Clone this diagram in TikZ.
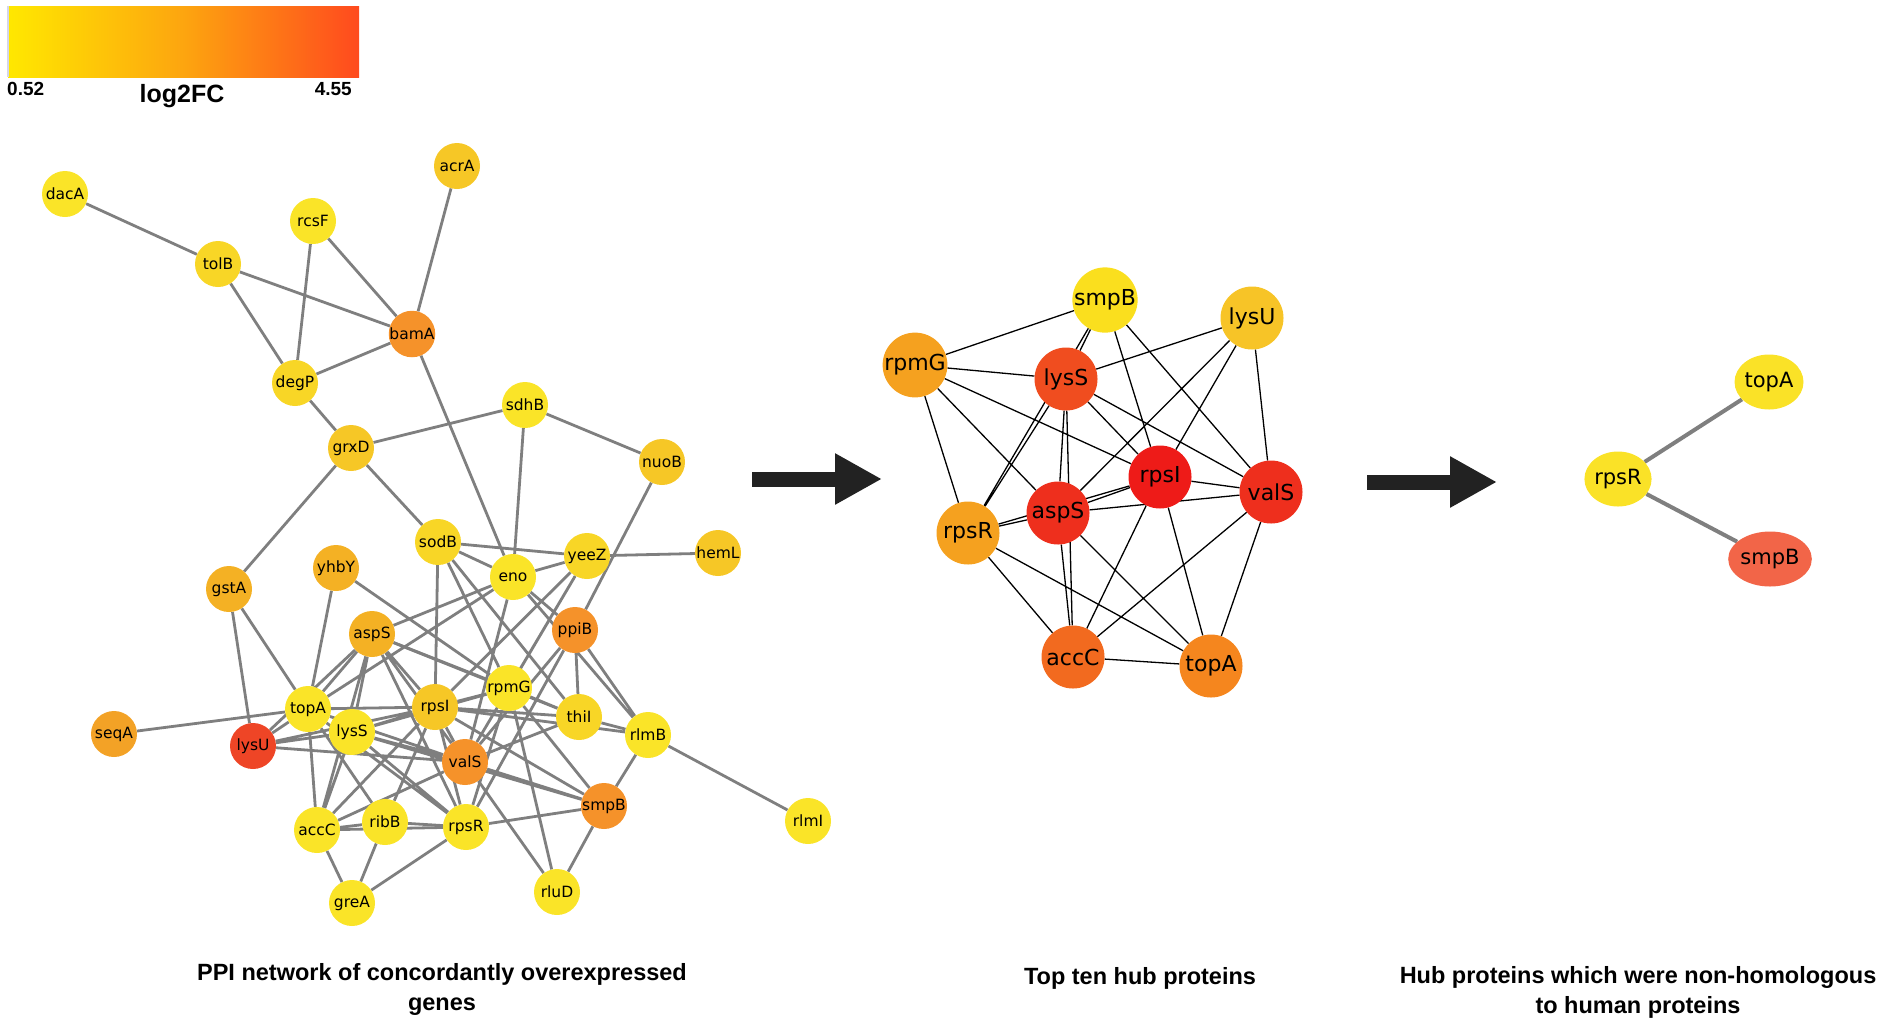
\documentclass[tikz,border=0pt]{standalone}
\usepackage{fontspec}
\setmainfont{DejaVu Sans}
\newfontfamily\capfont{Liberation Sans}
\usepackage{xcolor}
\usepackage{tikz}
\usetikzlibrary{arrows.meta,backgrounds,shapes.geometric}

\definecolor{cyel}{HTML}{FAE428}
\definecolor{cyel2}{HTML}{F8D626}
\definecolor{cgold}{HTML}{F6C726}
\definecolor{camb}{HTML}{F4B124}
\definecolor{cseq}{HTML}{F3A226}
\definecolor{corg}{HTML}{F5922A}
\definecolor{cred}{HTML}{EE4526}
\definecolor{hyel}{HTML}{FADF1E}
\definecolor{hgold}{HTML}{F7C427}
\definecolor{horg}{HTML}{F5A11F}
\definecolor{horg2}{HTML}{F5861E}
\definecolor{horg3}{HTML}{F26A1F}
\definecolor{hred1}{HTML}{F04D1F}
\definecolor{hred2}{HTML}{EE2F1D}
\definecolor{hred3}{HTML}{EE1B18}
\definecolor{fyel}{HTML}{FAE227}
\definecolor{fsal}{HTML}{F26548}
\definecolor{edgegray}{HTML}{7F7F7F}
\definecolor{arrowdark}{HTML}{222222}
\definecolor{barlo}{HTML}{FFE800}
\definecolor{barmid}{HTML}{FDA50F}
\definecolor{barhi}{HTML}{FF4A1E}
\definecolor{barline}{HTML}{D5D5EA}

\begin{document}
\begin{tikzpicture}
    [
      x = 1pt, y = -1pt,
      ppinode/.style = {circle, fill=#1, minimum size=46pt, inner sep=0pt, font=\fontsize{15.5}{18}\selectfont},
      hubnode/.style = {circle, fill=#1, minimum size=63pt, inner sep=0pt, font=\fontsize{22}{26}\selectfont},
      finnode/.style = {ellipse, fill=#1, minimum width=65pt, minimum height=55pt, inner sep=0pt, font=\fontsize{21}{25}\selectfont},
      ppiedge/.style = {draw=edgegray, line width=2.8pt},
      hubedge/.style = {draw=black, line width=1.3pt},
      finedge/.style = {draw=edgegray, line width=4pt},
      stagearrow/.style = {draw=arrowdark, line width=15pt, -{Triangle[length=47pt,width=48pt]}},
      stagecap/.style = {font=\capfont\bfseries\fontsize{23.5}{30}\selectfont, align=center},
      barlabel/.style = {font=\capfont\bfseries\fontsize{19}{22}\selectfont, inner sep=0pt},
    ]
    \useasboundingbox (0,0) rectangle (1902,1029);

    % colour scale
    \shade[left color=barlo, right color=barhi, middle color=barmid] (8,6) rectangle (359,77);
    \draw[barline, line width=2pt] (8,6) -- (8,77);
    \node[barlabel, anchor=west] (lo) at (7,89) {0.52};
    \node[barlabel, anchor=east] (hi) at (352,89) {4.55};
    \node[barlabel, font=\capfont\bfseries\fontsize{25}{28}\selectfont] (fc) at (182,96) {log2FC};

    % PPI network
    \node[ppinode=cyel]  (dacA) at (65,194)  {dacA};
    \node[ppinode=cgold] (acrA) at (457,166) {acrA};
    \node[ppinode=cyel]  (rcsF) at (313,221) {rcsF};
    \node[ppinode=cyel2] (tolB) at (218,264) {tolB};
    \node[ppinode=corg]  (bamA) at (412,334) {bamA};
    \node[ppinode=cyel2] (degP) at (295,383) {degP};
    \node[ppinode=cyel]  (sdhB) at (525,405) {sdhB};
    \node[ppinode=cgold] (grxD) at (351,448) {grxD};
    \node[ppinode=cgold] (nuoB) at (662,462) {nuoB};
    \node[ppinode=cyel2] (sodB) at (438,542) {sodB};
    \node[ppinode=cyel]  (eno)  at (513,577) {eno};
    \node[ppinode=cyel2] (yeeZ) at (587,556) {yeeZ};
    \node[ppinode=cgold] (hemL) at (718,553) {hemL};
    \node[ppinode=camb]  (gstA) at (229,589) {gstA};
    \node[ppinode=camb]  (yhbY) at (336,568) {yhbY};
    \node[ppinode=corg]  (ppiB) at (575,630) {ppiB};
    \node[ppinode=camb]  (aspS) at (372,634) {aspS};
    \node[ppinode=cyel]  (rpmG) at (509,688) {rpmG};
    \node[ppinode=cyel]  (topA) at (308,709) {topA};
    \node[ppinode=cgold] (rpsI) at (435,707) {rpsI};
    \node[ppinode=cyel2] (thiI) at (579,717) {thiI};
    \node[ppinode=cyel]  (lysS) at (352,732) {lysS};
    \node[ppinode=cseq]  (seqA) at (114,734) {seqA};
    \node[ppinode=cred]  (lysU) at (253,746) {lysU};
    \node[ppinode=cyel]  (rlmB) at (648,735) {rlmB};
    \node[ppinode=corg]  (valS) at (465,762) {valS};
    \node[ppinode=corg]  (smpB) at (604,806) {smpB};
    \node[ppinode=cyel]  (accC) at (317,830) {accC};
    \node[ppinode=cyel]  (ribB) at (385,822) {ribB};
    \node[ppinode=cyel]  (rpsR) at (466,827) {rpsR};
    \node[ppinode=cyel]  (rlmI) at (808,821) {rlmI};
    \node[ppinode=cyel]  (rluD) at (557,892) {rluD};
    \node[ppinode=cyel]  (greA) at (352,903) {greA};

    % hub network
    \node[hubnode=hyel]  (hsmpB) at (1105,300) {smpB};
    \node[hubnode=hgold] (hlysU) at (1252,318) {lysU};
    \node[hubnode=horg]  (hrpmG) at (915,365)  {rpmG};
    \node[hubnode=hred1] (hlysS) at (1066,379) {lysS};
    \node[hubnode=hred3] (hrpsI) at (1160,477) {rpsI};
    \node[hubnode=hred2] (hvalS) at (1271,492) {valS};
    \node[hubnode=hred2] (haspS) at (1058,513) {aspS};
    \node[hubnode=horg]  (hrpsR) at (968,533)  {rpsR};
    \node[hubnode=horg3] (haccC) at (1073,657) {accC};
    \node[hubnode=horg2] (htopA) at (1211,666) {topA};

    % non-homologous hubs
    \node[finnode=fyel] (ftopA) at (1769,382) {topA};
    \node[finnode=fyel] (frpsR) at (1618,479) {rpsR};
    \node[finnode=fsal] (fsmpB) at (1770,559) {smpB};

    \begin{scope}[on background layer]
      \draw[ppiedge] (dacA) -- (tolB) (tolB) -- (bamA) (tolB) -- (degP) (rcsF) -- (degP)
        (rcsF) -- (bamA) (acrA) -- (bamA) (bamA) -- (degP) (degP) -- (grxD)
        (grxD) -- (sdhB) (bamA) -- (eno) (grxD) -- (gstA) (grxD) -- (sodB)
        (sdhB) -- (eno) (sdhB) -- (nuoB) (nuoB) -- (ppiB) (sodB) -- (yeeZ)
        (eno) -- (yeeZ) (yeeZ) -- (hemL);
      \draw[ppiedge] (gstA) -- (lysU) (gstA) -- (topA) (yhbY) -- (topA) (yhbY) -- (rpmG)
        (seqA) -- (topA) (topA) -- (lysU) (rlmB) -- (rlmI) (rlmB) -- (smpB)
        (smpB) -- (rluD) (rpmG) -- (rluD) (valS) -- (rluD) (ppiB) -- (thiI)
        (ppiB) -- (rlmB) (eno) -- (rlmB) (thiI) -- (rlmB) (rpsI) -- (rlmB)
        (rpsI) -- (thiI) (rpmG) -- (thiI) (valS) -- (thiI) (aspS) -- (thiI)
        (sodB) -- (eno) (sodB) -- (rpsI) (sodB) -- (rpmG) (sodB) -- (thiI)
        (eno) -- (aspS) (eno) -- (topA) (eno) -- (valS) (eno) -- (ppiB)
        (yeeZ) -- (rpmG) (yeeZ) -- (rpsI) (yeeZ) -- (valS) (ppiB) -- (rpsR)
        (ppiB) -- (valS) (accC) -- (ribB) (ribB) -- (rpsR) (accC) -- (greA)
        (ribB) -- (greA) (greA) -- (rpsR) (ribB) -- (rpsI) (topA) -- (ribB)
        (aspS) -- (lysU);
      \draw[ppiedge] (smpB) -- (rpmG) (smpB) -- (lysS) (smpB) -- (rpsI) (smpB) -- (valS)
        (smpB) -- (rpsR) (lysU) -- (lysS) (lysU) -- (rpsI) (lysU) -- (valS)
        (rpmG) -- (lysS) (rpmG) -- (rpsI) (rpmG) -- (aspS) (rpmG) -- (rpsR)
        (lysS) -- (rpsR) (lysS) -- (aspS) (lysS) -- (rpsI) (lysS) -- (valS)
        (lysS) -- (accC) (rpsI) -- (aspS) (rpsI) -- (valS) (rpsI) -- (accC)
        (rpsI) -- (topA) (rpsI) -- (rpsR) (aspS) -- (valS) (aspS) -- (accC)
        (aspS) -- (topA) (aspS) -- (rpsR) (valS) -- (accC) (valS) -- (topA)
        (rpsR) -- (accC) (rpsR) -- (topA) (accC) -- (topA);

      \draw[hubedge] (hsmpB) -- (hrpmG) (hsmpB) -- (hlysS) (hsmpB) -- (hrpsI) (hsmpB) -- (hvalS)
        (hsmpB) -- (hrpsR) (hlysU) -- (hlysS) (hlysU) -- (haspS) (hlysU) -- (hrpsI)
        (hlysU) -- (hvalS) (hrpmG) -- (hlysS) (hrpmG) -- (hrpsI) (hrpmG) -- (haspS)
        (hrpmG) -- (hrpsR) (hlysS) -- (hrpsR) (hlysS) -- (haspS) (hlysS) -- (hrpsI)
        (hlysS) -- (hvalS) (hlysS) -- (haccC) (hrpsI) -- (haspS) (hrpsI) -- (hvalS)
        (hrpsI) -- (haccC) (hrpsI) -- (htopA) (hrpsI) -- (hrpsR) (haspS) -- (hvalS)
        (haspS) -- (haccC) (haspS) -- (htopA) (haspS) -- (hrpsR) (hvalS) -- (haccC)
        (hvalS) -- (htopA) (hrpsR) -- (haccC) (hrpsR) -- (htopA) (haccC) -- (htopA);

      \draw[finedge] (frpsR) -- (ftopA) (frpsR) -- (fsmpB);
    \end{scope}

    % stage arrows
    \coordinate (arr1s) at (752,479);
    \coordinate (arr1e) at (882,479);
    \coordinate (arr2s) at (1367,482);
    \coordinate (arr2e) at (1497,482);
    \draw[stagearrow] (arr1s) -- (arr1e);
    \draw[stagearrow] (arr2s) -- (arr2e);

    % captions
    \node[stagecap] (cap1) at (442,989) {PPI network of concordantly overexpressed\\genes};
    \node[stagecap] (cap2) at (1140,978) {Top ten hub proteins};
    \node[stagecap] (cap3) at (1638,992) {Hub proteins which were non-homologous\\to human proteins};
\end{tikzpicture}
\end{document}
